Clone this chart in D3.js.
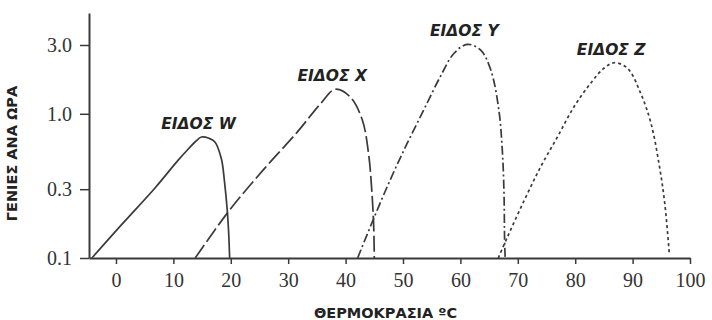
<!DOCTYPE html>
<html>
<head>
<meta charset="utf-8">
<script src="https://cdn.jsdelivr.net/npm/d3@7"></script>
<style>
  body { margin: 0; background: #fff; }
  svg { display: block; }
</style>
</head>
<body>
<div id="chart"></div>
<script>
// θερμοκρασία (°C) και γενιές ανά ώρα για κάθε είδος
const speciesNames = ['ΕΙΔΟΣ W', 'ΕΙΔΟΣ X', 'ΕΙΔΟΣ Y', 'ΕΙΔΟΣ Z'];

const tempW = [-4.2, 0.9, 6.8, 10.8, 12.6, 13.9, 14.9, 16.2, 17.2, 18.35, 18.9, 19.4, 19.65, 19.8];
const rateW = [0.1, 0.169, 0.306, 0.475, 0.57, 0.645, 0.69, 0.676, 0.64, 0.49, 0.34, 0.21, 0.144, 0.1];

const tempX = [13.8, 19.6, 25.7, 31.5, 35.6, 38.2, 40.8, 42.9, 44.0, 44.6, 44.9, 45.0];
const rateX = [0.1, 0.21, 0.41, 0.74, 1.17, 1.48, 1.31, 0.91, 0.53, 0.28, 0.165, 0.1];

const tempY = [42.1, 44.9, 47.8, 50.7, 53.6, 56.5, 58.9, 61.2, 63.5, 65.3, 66.7, 67.3, 67.6, 67.7, 67.8];
const rateY = [0.1, 0.188, 0.35, 0.62, 1.06, 1.81, 2.63, 3.03, 2.77, 2.01, 1.06, 0.56, 0.28, 0.133, 0.1];

const tempZ = [66.6, 68.2, 71.1, 74.0, 76.9, 79.8, 82.7, 85.0, 86.8, 89.1, 91.4, 93.2, 94.6, 95.6, 96.4];
const rateZ = [0.1, 0.14, 0.25, 0.43, 0.69, 1.12, 1.63, 2.07, 2.26, 2.07, 1.39, 0.86, 0.45, 0.24, 0.106];

const xTicks = [0, 10, 20, 30, 40, 50, 60, 70, 80, 90, 100];
const yTicks = [0.1, 0.3, 1.0, 3.0];
const xTitle = 'ΘΕΡΜΟΚΡΑΣΙΑ ºC';
const yTitle = 'ΓΕΝΙΕΣ ΑΝΑ ΩΡΑ';

const series = [
  { name: speciesNames[0], temp: tempW, rate: rateW, dash: null },
  { name: speciesNames[1], temp: tempX, rate: rateX, dash: '16,4' },
  { name: speciesNames[2], temp: tempY, rate: rateY, dash: '9,3,2,3' },
  { name: speciesNames[3], temp: tempZ, rate: rateZ, dash: '3,3' },
];

const width = 712, height = 320;
const area = { left: 89, right: 690, top: 13, bottom: 258 };

const svg = d3.select('#chart').append('svg')
  .attr('width', width)
  .attr('height', height)
  .attr('viewBox', `0 0 ${width} ${height}`);

const xScale = d3.scaleLinear().domain([-4.7, 100]).range([area.left, area.right]);
const yScale = d3.scaleLog().domain([0.1, 5]).range([area.bottom, area.top]);

const ink = '#3a3a3a';

// άξονας X
const gx = svg.append('g')
  .attr('transform', `translate(0, ${area.bottom})`)
  .call(d3.axisBottom(xScale).tickValues(xTicks).tickSize(6).tickSizeOuter(0).tickPadding(9));
gx.select('.domain').attr('stroke', ink).attr('stroke-width', 2);
gx.selectAll('line').attr('stroke', ink).attr('stroke-width', 1.5);
gx.selectAll('text')
  .style('font-family', '"Liberation Serif", "DejaVu Serif", serif')
  .style('font-size', '20px')
  .style('fill', '#333');

// άξονας Y
const gy = svg.append('g')
  .attr('transform', `translate(${area.left}, 0)`)
  .call(d3.axisLeft(yScale).tickValues(yTicks).tickFormat(d3.format('.1f')).tickSize(9).tickSizeOuter(0).tickPadding(8));
gy.select('.domain').attr('stroke', ink).attr('stroke-width', 2);
gy.selectAll('line').attr('stroke', ink).attr('stroke-width', 1.5);
gy.selectAll('text')
  .style('font-family', '"Liberation Serif", "DejaVu Serif", serif')
  .style('font-size', '20px')
  .style('fill', '#333');

// τίτλοι αξόνων
svg.append('text')
  .attr('x', (area.left + area.right) / 2 - 4)
  .attr('y', 318)
  .attr('text-anchor', 'middle')
  .style('font-family', '"DejaVu Sans", sans-serif')
  .style('font-weight', 'bold')
  .style('font-size', '14.5px')
  .style('fill', '#222')
  .text(xTitle);

svg.append('text')
  .attr('transform', `translate(17, ${(area.top + area.bottom) / 2 + 18}) rotate(-90)`)
  .attr('text-anchor', 'middle')
  .style('font-family', '"DejaVu Sans", sans-serif')
  .style('font-weight', 'bold')
  .style('font-size', '14.5px')
  .style('fill', '#222')
  .text(yTitle);

// καμπύλες
const line = d3.line()
  .x((d) => xScale(d[0]))
  .y((d) => yScale(d[1]))
  .curve(d3.curveCatmullRom.alpha(0.5));

const curves = svg.append('g').attr('class', 'curves');

series.forEach((s) => {
  const pts = d3.zip(s.temp, s.rate);
  curves.append('path')
    .attr('d', line(pts))
    .attr('fill', 'none')
    .attr('stroke', ink)
    .attr('stroke-width', 1.7)
    .attr('stroke-dasharray', s.dash);

  // ετικέτα πάνω από την κορυφή
  const i = d3.maxIndex(s.rate);
  svg.append('text')
    .attr('x', xScale(s.temp[i]) - 3)
    .attr('y', yScale(s.rate[i]) - 8)
    .attr('text-anchor', 'middle')
    .style('font-family', '"DejaVu Sans", sans-serif')
    .style('font-weight', 'bold')
    .style('font-style', 'italic')
    .style('font-size', '15.5px')
    .style('fill', '#222')
    .text(s.name);
});
</script>
</body>
</html>
